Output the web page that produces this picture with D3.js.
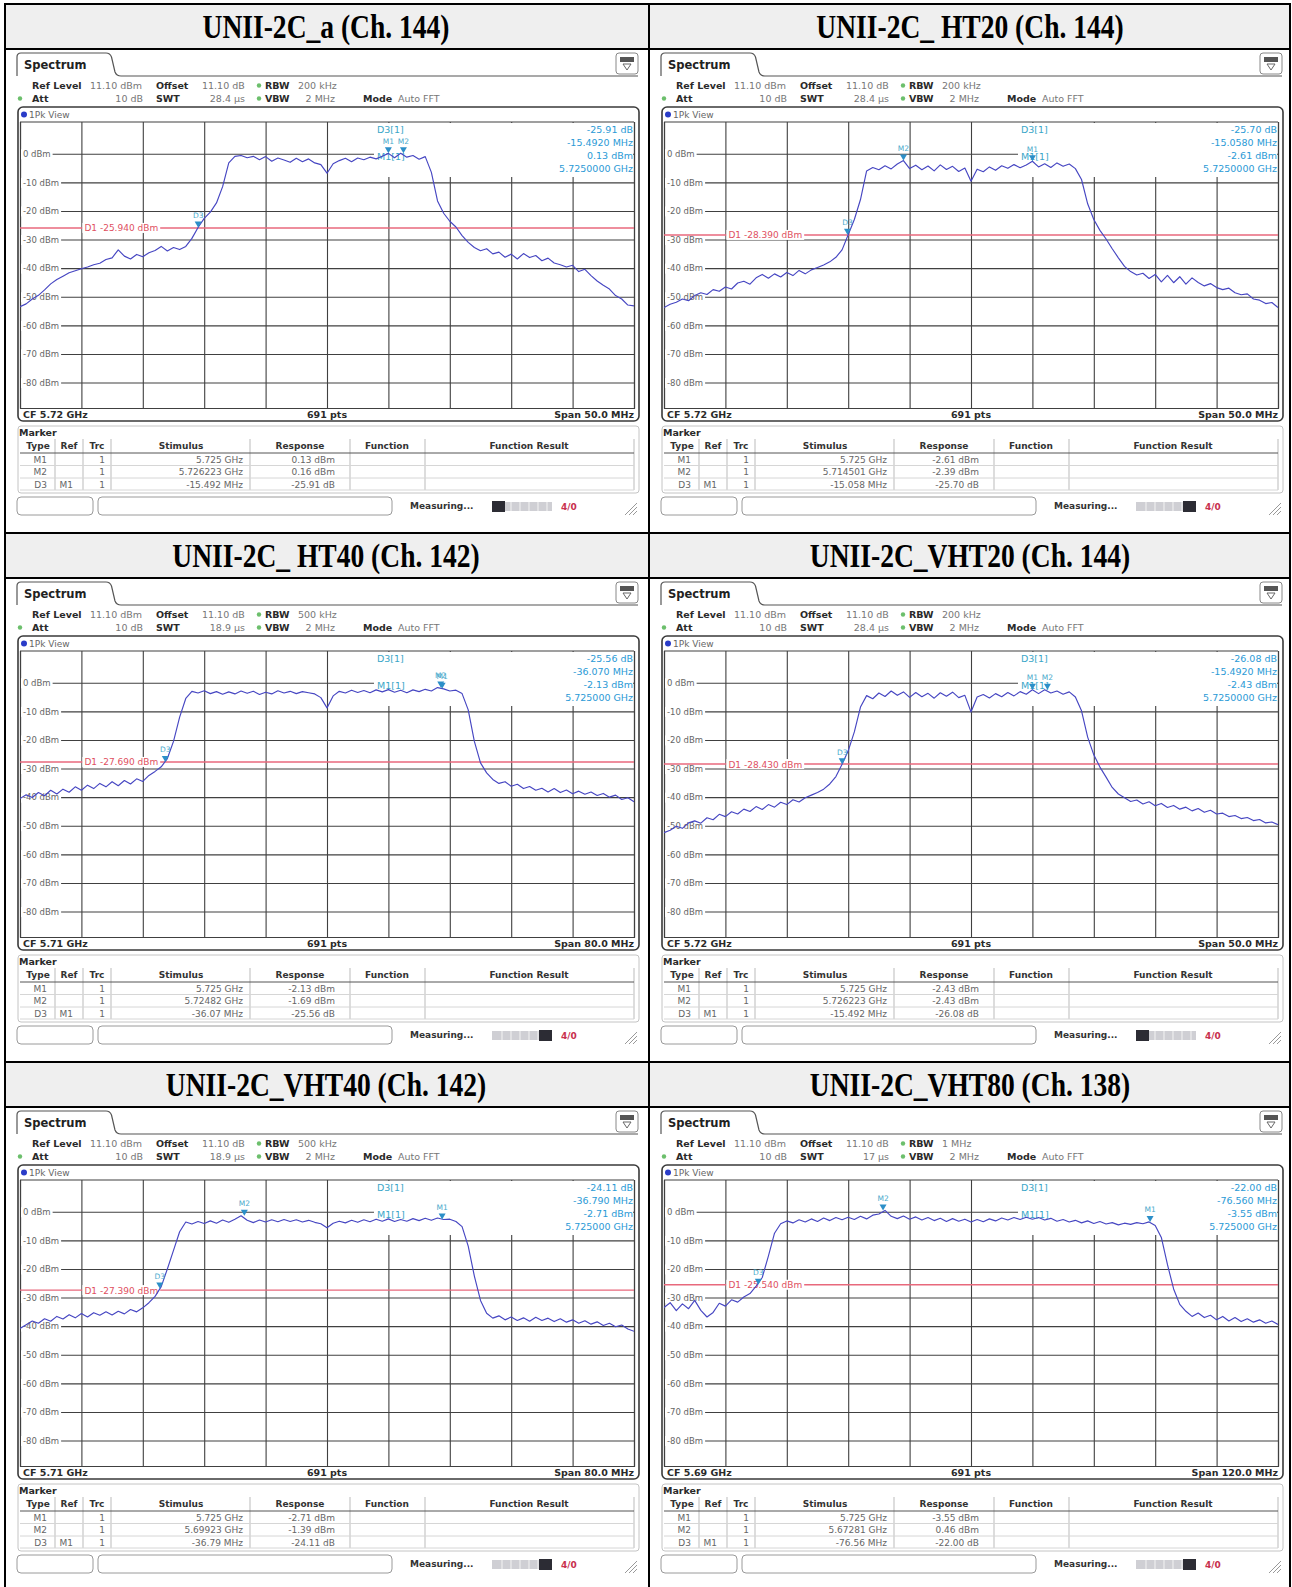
<!DOCTYPE html>
<html>
<head>
<meta charset="utf-8">
<title>UNII-2C 26 dB bandwidth plots</title>
<script src="https://cdn.jsdelivr.net/npm/d3@7"></script>
<style>
  html, body { margin: 0; padding: 0; background: #fff; }
  svg { display: block; }
  .ui { font-family: "DejaVu Sans", Verdana, sans-serif; }
</style>
</head>
<body>
<svg id="sheet" width="1292" height="1587"></svg>
<script>
// ---------------- measurement data ----------------
const titles = [
  "UNII-2C_a (Ch. 144)", "UNII-2C_ HT20 (Ch. 144)",
  "UNII-2C_ HT40 (Ch. 142)", "UNII-2C_VHT20 (Ch. 144)",
  "UNII-2C_VHT40 (Ch. 142)", "UNII-2C_VHT80 (Ch. 138)"
];
const centerGHz = [5.72, 5.72, 5.71, 5.72, 5.71, 5.69];
const spanMHz   = [50, 50, 80, 50, 80, 120];
const rbwText   = ["200 kHz", "200 kHz", "500 kHz", "200 kHz", "500 kHz", "1 MHz"];
const swtText   = ["28.4 µs", "28.4 µs", "18.9 µs", "28.4 µs", "18.9 µs", "17 µs"];
const vbwText   = ["2 MHz", "2 MHz", "2 MHz", "2 MHz", "2 MHz", "2 MHz"];
const refLevel  = 11.1;
const d1Level   = [-25.94, -28.39, -27.69, -28.43, -27.39, -25.54];

// marker table: M1 / M2 absolute, D3 relative to M1
const m1GHz       = [5.725, 5.725, 5.725, 5.725, 5.725, 5.725];
const m1dBm       = [0.13, -2.61, -2.13, -2.43, -2.71, -3.55];
const m2GHz       = [5.726223, 5.714501, 5.72482, 5.726223, 5.69923, 5.67281];
const m2dBm       = [0.16, -2.39, -1.69, -2.43, -1.39, 0.46];
const d3OffsetMHz = [-15.492, -15.058, -36.07, -15.492, -36.79, -76.56];
const d3dB        = [-25.91, -25.70, -25.56, -26.08, -24.11, -22.00];

const yLabels = [0, -10, -20, -30, -40, -50, -60, -70, -80];
const busySide = ["left", "right", "right", "left", "right", "right"];

// trace 1 (peak), 101 points across the span, dBm
const traceA = [
  -53.5,-52.5,-50.8,-49.5,-47.6,-45.5,-44.0,-42.8,-41.6,-40.9,
  -40.2,-39.6,-38.8,-38.3,-37.0,-36.4,-33.6,-35.8,-36.8,-35.2,
  -36.0,-34.6,-33.8,-32.4,-34.0,-32.8,-33.5,-32.4,-29.6,-25.8,
  -22.6,-20.4,-17.2,-11.5,-3.2,-0.9,-0.6,-1.4,-0.9,-2.1,
  -1.0,-2.6,-1.5,-2.2,-3.0,-1.6,-2.8,-1.8,-3.2,-3.8,
  -6.8,-3.5,-2.4,-1.6,-2.8,-1.5,-2.1,-1.2,-1.8,-0.9,
  0.13,-1.4,0.16,-1.2,-0.6,-1.9,-1.0,-6.5,-16.5,-20.8,
  -23.6,-25.6,-28.6,-31.0,-32.8,-33.9,-33.2,-35.0,-34.4,-36.2,
  -35.1,-36.8,-34.9,-36.3,-35.6,-37.4,-36.5,-38.2,-38.8,-39.6,
  -39.0,-41.2,-40.4,-42.6,-44.5,-46.0,-47.3,-49.6,-50.8,-52.9,
  -53.2
];
const traceHT20 = [
  -53.8,-52.6,-51.9,-50.8,-51.4,-49.6,-48.6,-49.2,-47.5,-48.1,
  -46.6,-47.3,-45.2,-44.6,-45.6,-43.4,-42.2,-43.5,-42.0,-43.1,
  -41.5,-42.6,-40.8,-42.0,-40.6,-39.8,-38.9,-37.8,-36.2,-33.6,
  -28.3,-23.0,-16.0,-6.0,-4.8,-5.6,-4.2,-5.3,-3.6,-2.39,
  -5.2,-4.0,-5.6,-4.3,-6.0,-3.9,-5.5,-4.4,-6.2,-5.0,
  -9.6,-5.4,-6.3,-4.6,-5.8,-4.2,-5.1,-3.8,-4.9,-3.9,
  -2.61,-4.6,-3.5,-4.8,-3.2,-4.4,-3.6,-5.2,-9.0,-17.5,
  -23.0,-26.8,-29.8,-33.2,-36.4,-39.4,-41.2,-42.4,-41.8,-43.6,
  -42.2,-44.8,-42.5,-45.1,-43.0,-45.6,-43.4,-45.0,-46.2,-45.4,
  -46.8,-47.5,-47.0,-48.6,-49.3,-49.0,-50.8,-51.2,-52.4,-52.0,
  -53.8
];
const traceHT40 = [
  -40.5,-39.2,-40.1,-38.4,-39.5,-37.6,-38.9,-37.2,-38.3,-36.4,
  -37.6,-35.8,-37.0,-35.2,-36.4,-34.6,-36.0,-34.2,-35.4,-33.6,
  -34.5,-32.4,-31.0,-29.4,-26.5,-20.5,-12.0,-5.5,-3.0,-3.6,
  -2.8,-3.8,-3.1,-4.0,-3.2,-3.9,-2.9,-3.7,-3.0,-4.1,
  -3.3,-3.9,-2.8,-3.6,-3.0,-3.8,-3.1,-3.5,-3.9,-5.2,
  -8.8,-4.6,-3.0,-3.6,-2.6,-3.4,-2.7,-3.5,-2.5,-3.2,
  -2.4,-3.3,-2.6,-3.5,-2.5,-3.1,-2.3,-2.9,-1.69,-2.13,
  -2.9,-2.6,-3.8,-9.5,-20.5,-28.0,-31.5,-33.8,-35.2,-34.6,
  -36.2,-35.5,-37.0,-36.3,-37.6,-36.9,-38.2,-37.0,-38.4,-37.5,
  -38.8,-37.9,-39.0,-38.2,-39.4,-38.7,-40.0,-39.3,-40.8,-40.2,
  -41.6
];
const traceVHT20 = [
  -52.4,-51.6,-50.2,-50.9,-49.0,-48.3,-49.1,-47.2,-47.9,-46.0,
  -46.8,-45.1,-45.9,-44.2,-45.0,-43.3,-44.3,-42.6,-43.5,-41.8,
  -42.6,-40.9,-41.7,-40.2,-39.3,-38.4,-37.2,-35.4,-32.8,-28.5,
  -23.8,-17.2,-8.5,-4.5,-5.6,-3.6,-4.8,-2.9,-4.4,-3.2,
  -5.1,-3.4,-4.9,-3.7,-5.4,-3.5,-4.7,-3.3,-5.2,-4.4,
  -10.2,-5.0,-4.1,-5.3,-3.8,-4.9,-3.4,-4.6,-3.1,-4.0,
  -2.43,-3.8,-2.43,-3.6,-2.9,-4.0,-3.2,-5.0,-9.8,-19.0,
  -25.2,-29.5,-33.0,-36.6,-38.9,-40.2,-41.5,-41.0,-42.4,-41.6,
  -43.0,-42.2,-43.6,-42.9,-44.2,-43.5,-44.8,-44.0,-45.3,-44.6,
  -45.9,-45.6,-46.8,-46.4,-47.5,-47.1,-48.2,-47.8,-49.0,-48.7,
  -49.6
];
const traceVHT40 = [
  -40.8,-39.5,-38.2,-39.0,-37.4,-38.3,-36.6,-37.5,-36.0,-37.1,
  -35.6,-36.8,-35.3,-36.2,-35.0,-36.1,-34.8,-35.7,-34.2,-35.0,
  -33.6,-31.8,-29.6,-26.2,-20.0,-13.5,-7.0,-3.6,-4.3,-3.4,
  -4.1,-3.2,-4.0,-2.9,-3.7,-2.6,-1.39,-3.0,-3.8,-2.9,
  -3.6,-2.8,-3.5,-2.7,-3.4,-2.8,-3.6,-3.0,-3.7,-4.2,
  -5.6,-4.0,-3.3,-3.9,-3.0,-3.7,-2.8,-3.5,-2.6,-3.3,
  -2.5,-3.4,-2.7,-3.3,-2.4,-3.1,-2.3,-3.0,-2.2,-2.71,
  -2.6,-3.4,-5.2,-12.0,-22.5,-31.0,-35.5,-37.2,-36.4,-37.8,
  -36.8,-38.0,-37.1,-38.3,-36.9,-38.0,-37.2,-38.4,-37.4,-38.6,
  -37.8,-39.0,-38.1,-39.3,-38.5,-39.8,-39.0,-40.2,-39.6,-41.0,
  -41.8
];
const traceVHT80 = [
  -33.5,-31.8,-34.6,-32.2,-33.9,-31.0,-34.5,-36.8,-35.2,-32.0,
  -33.0,-30.8,-31.6,-29.8,-28.6,-26.0,-23.0,-15.5,-7.5,-4.2,
  -3.2,-3.9,-2.8,-3.6,-2.5,-3.4,-2.2,-3.1,-2.0,-2.8,
  -1.9,-2.7,-1.6,-2.5,-1.2,-0.8,0.46,-1.6,-2.4,-1.5,
  -2.6,-1.8,-2.9,-2.0,-3.1,-2.3,-3.4,-2.4,-3.3,-2.6,
  -3.6,-2.7,-3.5,-2.5,-3.2,-2.2,-2.9,-2.0,-2.7,-1.9,
  -2.6,-2.0,-2.9,-2.3,-3.3,-2.7,-3.6,-3.0,-3.9,-3.2,
  -4.1,-3.4,-4.3,-3.8,-4.6,-4.0,-4.4,-3.8,-4.2,-3.55,
  -4.8,-9.0,-18.5,-27.0,-32.4,-34.8,-36.6,-35.4,-37.0,-36.2,
  -37.8,-36.6,-38.2,-37.0,-38.4,-37.4,-38.6,-37.8,-39.0,-38.2,
  -39.4
];
const traces = [traceA, traceHT20, traceHT40, traceVHT20, traceVHT40, traceVHT80];

// ---------------- page geometry ----------------
const svg = d3.select("#sheet");
const cellX = [5, 649];          // left edge of each table column
const cellW = [644, 641];
const rowBase = [49, 578, 1107]; // bottom of each title band
const bandH = 45;

// local layout of one analyzer screen
const GX0 = 15, GX1 = 629, GY0 = 73, GY1 = 359;
const UI = "DejaVu Sans, Verdana, sans-serif";

function txt(g, x, y, s, opt = {}) {
  return g.append("text")
    .attr("x", x).attr("y", y)
    .attr("font-family", UI)
    .attr("font-size", opt.size || 9)
    .attr("font-weight", opt.bold ? "bold" : "normal")
    .attr("fill", opt.fill || "#555")
    .attr("text-anchor", opt.anchor || "start")
    .text(s);
}

function drawTitle(k) {
  const col = k % 2, row = Math.floor(k / 2);
  const x0 = cellX[col], B = rowBase[row];
  svg.append("rect").attr("x", x0).attr("y", B - bandH)
    .attr("width", cellW[col]).attr("height", bandH).attr("fill", "#efefef");
  svg.append("text")
    .attr("transform", `translate(${x0 + 321},${B - 11}) scale(0.81,1)`)
    .attr("text-anchor", "middle")
    .attr("font-family", "Liberation Serif, Times New Roman, serif")
    .attr("font-weight", "bold").attr("font-size", 34).attr("fill", "#000")
    .text(titles[k]);
}

function drawPanel(k) {
  const col = k % 2, row = Math.floor(k / 2);
  const x0 = cellX[col], B = rowBase[row];
  const g = svg.append("g").attr("class", "ui").attr("transform", `translate(${x0},${B})`);

  const f0 = centerGHz[k] - spanMHz[k] / 2000;
  const f1 = centerGHz[k] + spanMHz[k] / 2000;
  const x = d3.scaleLinear().domain([f0, f1]).range([GX0, GX1]);
  const y = d3.scaleLinear().domain([refLevel, refLevel - 100]).range([GY0, GY1]);

  // tab header
  g.append("path")
    .attr("d", "M12,27 V8 Q12,4 16,4 H101 Q105,4 106.5,8 L110,23 Q111.5,27 116,27 H633")
    .attr("fill", "none").attr("stroke", "#555").attr("stroke-width", 1.2);
  txt(g, 19, 20, "Spectrum", { size: 11.5, bold: true, fill: "#222" });
  // display-config icon
  g.append("rect").attr("x", 611).attr("y", 4).attr("width", 22).attr("height", 21).attr("rx", 3)
    .attr("fill", "#fff").attr("stroke", "#888");
  g.append("rect").attr("x", 615).attr("y", 8).attr("width", 14).attr("height", 5).attr("fill", "#555");
  g.append("path").attr("d", "M618,15 H626 L622,21 Z").attr("fill", "none").attr("stroke", "#666");

  // setting lines
  const dot = (cx, cy, c) => g.append("circle").attr("cx", cx).attr("cy", cy).attr("r", 2.2).attr("fill", c);
  txt(g, 27, 40, "Ref Level", { size: 9.5, bold: true, fill: "#2a2a2a" });
  txt(g, 85, 40, refLevel.toFixed(2) + " dBm", { size: 9.5, fill: "#777" });
  txt(g, 151, 40, "Offset", { size: 9.5, bold: true, fill: "#2a2a2a" });
  txt(g, 197, 40, refLevel.toFixed(2) + " dB", { size: 9.5, fill: "#777" });
  dot(254, 36.5, "#6cbf6c");
  txt(g, 260, 40, "RBW", { size: 9.5, bold: true, fill: "#2a2a2a" });
  txt(g, 293, 40, rbwText[k], { size: 9.5, fill: "#777" });
  dot(15, 49.5, "#6cbf6c");
  txt(g, 27, 53, "Att", { size: 9.5, bold: true, fill: "#2a2a2a" });
  txt(g, 138, 53, "10 dB", { size: 9.5, fill: "#777", anchor: "end" });
  txt(g, 151, 53, "SWT", { size: 9.5, bold: true, fill: "#2a2a2a" });
  txt(g, 240, 53, swtText[k], { size: 9.5, fill: "#777", anchor: "end" });
  dot(254, 49.5, "#6cbf6c");
  txt(g, 260, 53, "VBW", { size: 9.5, bold: true, fill: "#2a2a2a" });
  txt(g, 330, 53, vbwText[k], { size: 9.5, fill: "#777", anchor: "end" });
  txt(g, 358, 53, "Mode", { size: 9.5, bold: true, fill: "#2a2a2a" });
  txt(g, 393, 53, "Auto FFT", { size: 9.5, fill: "#777" });

  // window frame
  g.append("rect").attr("x", 13).attr("y", 58).attr("width", 621).attr("height", 314).attr("rx", 5)
    .attr("fill", "#fff").attr("stroke", "#3a3a3a").attr("stroke-width", 1.6);
  g.append("circle").attr("cx", 19).attr("cy", 65.5).attr("r", 3).attr("fill", "#2a3cc8");
  txt(g, 24, 69, "1Pk View", { size: 9, fill: "#666" });

  // grid
  const divs = d3.range(11).map(i => f0 + i * (f1 - f0) / 10);
  g.append("g").attr("transform", `translate(0,${GY1})`)
    .call(d3.axisBottom(x).tickValues(divs).tickSize(-(GY1 - GY0)).tickFormat(""))
    .call(a => a.select(".domain").attr("stroke", "#404040").attr("stroke-width", 1.2))
    .call(a => a.selectAll(".tick line").attr("stroke", "#404040").attr("stroke-width", 1.1));
  g.append("g").attr("transform", `translate(${GX0},0)`)
    .call(d3.axisLeft(y).tickValues(yLabels).tickSize(-(GX1 - GX0)).tickFormat(""))
    .call(a => a.select(".domain").remove())
    .call(a => a.selectAll(".tick line").attr("stroke", "#404040").attr("stroke-width", 1.1));
  g.append("line").attr("x1", GX0).attr("x2", GX1).attr("y1", GY0).attr("y2", GY0)
    .attr("stroke", "#404040").attr("stroke-width", 1.2);

  // level labels on the grid
  const lab = g.append("g").attr("transform", `translate(${GX0},0)`)
    .call(d3.axisRight(y).tickValues(yLabels).tickSize(0).tickPadding(3).tickFormat(d => `${d} dBm`));
  lab.select(".domain").remove();
  lab.selectAll(".tick text").attr("font-family", UI).attr("font-size", 8.5).attr("fill", "#666");
  lab.selectAll(".tick").each(function () {
    const t = d3.select(this).select("text").node();
    const w = t.getComputedTextLength();
    d3.select(this).insert("rect", "text").attr("x", 1).attr("y", -5).attr("width", w + 4).attr("height", 10).attr("fill", "#fff");
  });

  // marker readout block (opaque)
  const rdx = 372;
  g.append("rect").attr("x", rdx - 3).attr("y", GY0 + 1).attr("width", GX1 - rdx + 2).attr("height", 54).attr("fill", "#fff");
  const rc = "#2a9ad6";
  const fd = spanMHz[k] <= 50 ? 4 : 3;
  txt(g, rdx, 84, "D3[1]", { size: 9.5, fill: "#3aa6c8" });
  txt(g, GX1 - 1, 84, d3dB[k].toFixed(2) + " dB", { size: 9.5, fill: rc, anchor: "end" });
  txt(g, GX1 - 1, 97, d3OffsetMHz[k].toFixed(fd) + " MHz", { size: 9.5, fill: rc, anchor: "end" });
  txt(g, rdx, 111, "M1[1]", { size: 9.5, fill: "#3aa6c8" });
  txt(g, GX1 - 1, 110, m1dBm[k].toFixed(2) + " dBm", { size: 9.5, fill: rc, anchor: "end" });
  txt(g, GX1 - 1, 123, m1GHz[k].toFixed(fd + 3) + " GHz", { size: 9.5, fill: rc, anchor: "end" });

  // display line D1
  const yd = y(d1Level[k]);
  g.append("line").attr("x1", GX0).attr("x2", GX1).attr("y1", yd).attr("y2", yd)
    .attr("stroke", "#e8697c").attr("stroke-width", 1.4);
  const dl = txt(g, GX0 + (GX1 - GX0) / 10 + 3, yd + 3.5, `D1 ${d1Level[k].toFixed(3)} dBm`, { size: 9, fill: "#e0505f" });
  const dw = dl.node().getComputedTextLength();
  g.insert("rect", () => dl.node()).attr("x", GX0 + (GX1 - GX0) / 10 + 1).attr("y", yd - 5)
    .attr("width", dw + 4).attr("height", 10).attr("fill", "#fff");

  // trace
  const clipId = "clip" + k;
  g.append("clipPath").attr("id", clipId).append("rect")
    .attr("x", GX0).attr("y", GY0).attr("width", GX1 - GX0).attr("height", GY1 - GY0);
  const tr = traces[k];
  const step = (f1 - f0) / (tr.length - 1);
  g.append("path").datum(tr)
    .attr("clip-path", `url(#${clipId})`)
    .attr("fill", "none").attr("stroke", "#4646c2").attr("stroke-width", 1.15)
    .attr("stroke-linejoin", "round")
    .attr("d", d3.line().x((d, i) => x(f0 + i * step)).y(d => y(d)));

  // markers
  const marks = [
    { n: "M1", f: m1GHz[k], v: m1dBm[k] },
    { n: "M2", f: m2GHz[k], v: m2dBm[k] },
    { n: "D3", f: m1GHz[k] + d3OffsetMHz[k] / 1000, v: m1dBm[k] + d3dB[k] }
  ];
  marks.forEach(m => {
    const mx = x(m.f), my = y(m.v);
    g.append("path").attr("d", `M${mx},${my} L${mx - 3.5},${my - 6} L${mx + 3.5},${my - 6} Z`).attr("fill", "#2c8fc8");
    txt(g, mx, my - 9.5, m.n, { size: 7.5, fill: "#4aaacc", anchor: "middle" });
  });

  // footer of the diagram
  txt(g, 18, 369, `CF ${centerGHz[k]} GHz`, { size: 9.5, bold: true, fill: "#2a2a2a" });
  txt(g, (GX0 + GX1) / 2, 369, "691 pts", { size: 9.5, bold: true, fill: "#2a2a2a", anchor: "middle" });
  txt(g, GX1, 369, `Span ${spanMHz[k].toFixed(1)} MHz`, { size: 9.5, bold: true, fill: "#2a2a2a", anchor: "end" });

  // marker table
  txt(g, 14, 387, "Marker", { size: 9.5, bold: true, fill: "#2a2a2a" });
  g.append("rect").attr("x", 13).attr("y", 377).attr("width", 621).attr("height", 67).attr("rx", 3)
    .attr("fill", "none").attr("stroke", "#c4c4c4");
  const seps = [50, 78, 106, 245, 345, 420];
  const heads = [["Type", 33], ["Ref", 64], ["Trc", 92], ["Stimulus", 176], ["Response", 295], ["Function", 382], ["Function Result", 524]];
  heads.forEach(h => txt(g, h[1], 400, h[0], { size: 9, bold: true, fill: "#333", anchor: "middle" }));
  seps.forEach(s => g.append("line").attr("x1", s).attr("x2", s).attr("y1", 390).attr("y2", 441).attr("stroke", "#bbb"));
  g.append("line").attr("x1", 629).attr("x2", 629).attr("y1", 390).attr("y2", 441).attr("stroke", "#bbb");
  g.append("line").attr("x1", 15).attr("x2", 629).attr("y1", 404).attr("y2", 404).attr("stroke", "#555");
  [416.5, 429, 441].forEach(yy => g.append("line").attr("x1", 15).attr("x2", 629).attr("y1", yy).attr("y2", yy).attr("stroke", "#d6d6d6"));
  const rows = [
    ["M1", "", "1", `${m1GHz[k]} GHz`, `${m1dBm[k].toFixed(2)} dBm`],
    ["M2", "", "1", `${m2GHz[k]} GHz`, `${m2dBm[k].toFixed(2)} dBm`],
    ["D3", "M1", "1", `${d3OffsetMHz[k]} MHz`, `${d3dB[k].toFixed(2)} dB`]
  ];
  const ends = [42, 68, 100, 238, 330];
  rows.forEach((r, i) => {
    r.forEach((c, j) => txt(g, ends[j], 413.5 + i * 12.5, c, { size: 9, fill: "#666", anchor: "end" }));
  });

  // status bar
  g.append("rect").attr("x", 12).attr("y", 448).attr("width", 76).attr("height", 18).attr("rx", 4)
    .attr("fill", "#fff").attr("stroke", "#9a9a9a");
  g.append("rect").attr("x", 93).attr("y", 448).attr("width", 294).attr("height", 18).attr("rx", 4)
    .attr("fill", "#fff").attr("stroke", "#9a9a9a");
  txt(g, 405, 460, "Measuring...", { size: 9, bold: true, fill: "#333" });
  g.append("rect").attr("x", 487).attr("y", 453).attr("width", 60).attr("height", 9).attr("fill", "#cfcfd4");
  d3.range(6).forEach(i => g.append("line").attr("x1", 497 + i * 9).attr("x2", 497 + i * 9)
    .attr("y1", 453).attr("y2", 462).attr("stroke", "#f4f4f4"));
  const bx = busySide[k] === "left" ? 487 : 534;
  g.append("rect").attr("x", bx).attr("y", 452).attr("width", 13).attr("height", 11).attr("fill", "#2c2c34");
  txt(g, 556, 461, "4/0", { size: 9, bold: true, fill: "#c8304e" });
  [0, 4, 8].forEach(o => g.append("line").attr("x1", 620 + o).attr("y1", 466).attr("x2", 632).attr("y2", 454 + o)
    .attr("stroke", "#999"));
}

// titles and screens
d3.range(6).forEach(k => { drawTitle(k); drawPanel(k); });

// table rules
const rule = (x1, y1, x2, y2) => svg.append("line").attr("x1", x1).attr("y1", y1).attr("x2", x2).attr("y2", y2)
  .attr("stroke", "#000").attr("stroke-width", 2);
[5, 649, 1290].forEach(xv => rule(xv, 3, xv, 1587));
[4, 533, 1062].forEach(yv => rule(4, yv, 1291, yv));
rowBase.forEach(yv => rule(4, yv, 1291, yv));
</script>
</body>
</html>
